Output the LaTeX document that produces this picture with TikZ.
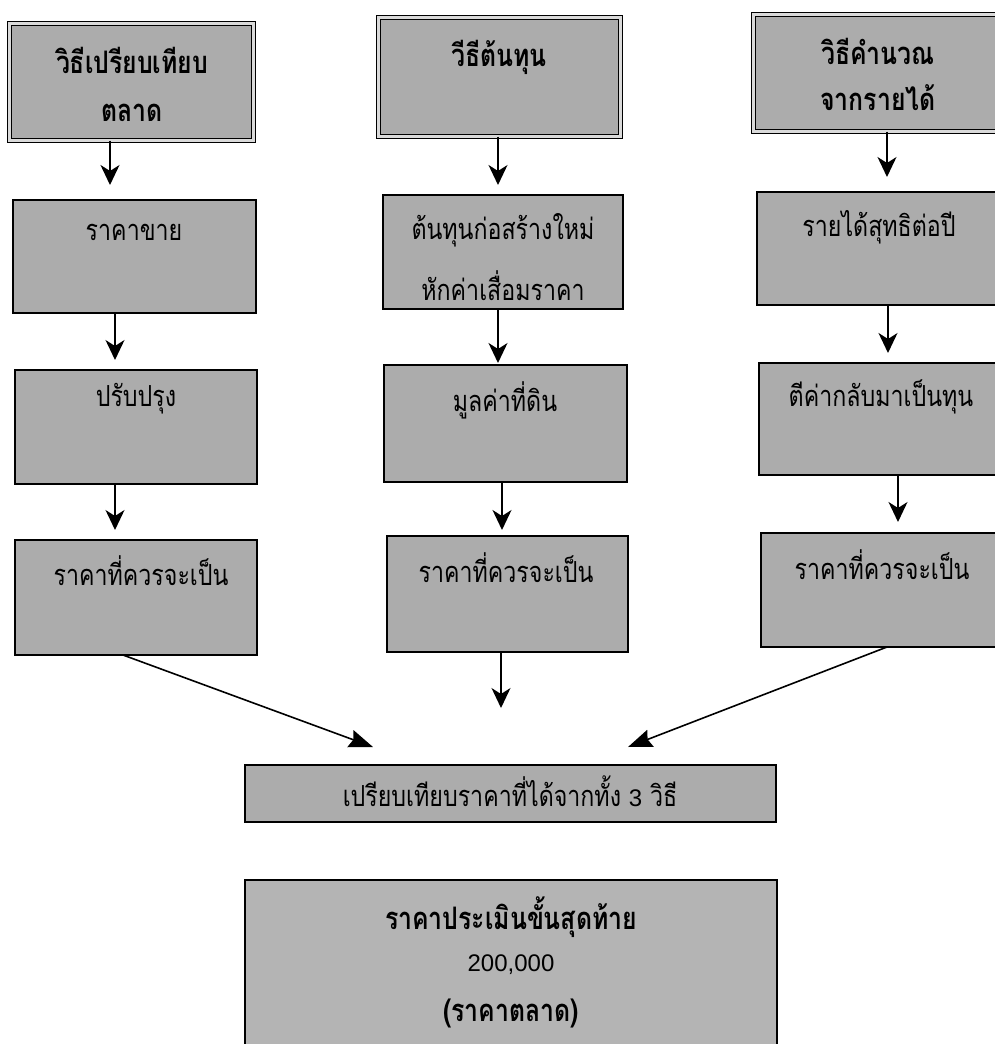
\documentclass[tikz,border=0pt]{standalone}
\usepackage{fontspec}
\usetikzlibrary{arrows.meta,calc}
\newfontfamily\thai[Script=Thai, FakeStretch=0.8]{Loma}
\newfontfamily\latin{Liberation Sans}
\definecolor{boxgray}{RGB}{172,172,172}
\definecolor{boxgrayb}{RGB}{180,180,180}
\begin{document}
\begin{tikzpicture}[x=1pt,y=-1pt,
  box/.style={draw=black, line width=1.6pt, fill=boxgray, anchor=north west, inner sep=0pt, outer sep=0pt},
  dbox/.style={box, line width=1pt, double=boxgray!45!white, double distance=2.2pt},
  txt/.style={font=\thai\fontsize{29}{33}\selectfont, inner sep=0pt, anchor=center},
  btxt/.style={font=\thai\bfseries\fontsize{31}{35}\selectfont, inner sep=0pt, anchor=center},
  arr/.style={draw=black, line width=1.6pt, -{Stealth[length=20pt, width=19pt, inset=6pt]}},
  longarr/.style={draw=black, line width=1.6pt, -{Stealth[length=24pt, width=18pt, inset=3pt]}}
]
\useasboundingbox (0,0) rectangle (994,1044);
\fill[white] (0,0) rectangle (994,1044);

% column 1
\node[dbox, minimum width=244, minimum height=117] (a1) at (9.5,23.5) {};
\node[box, minimum width=243, minimum height=113] (a2) at (13,200) {};
\node[box, minimum width=242, minimum height=114] (a3) at (15,370) {};
\node[box, minimum width=242, minimum height=115] (a4) at (15,540) {};
% column 2
\node[dbox, minimum width=242, minimum height=119] (b1) at (378.5,17.5) {};
\node[box, minimum width=240, minimum height=114] (b2) at (383,195) {};
\node[box, minimum width=243, minimum height=117] (b3) at (384,365) {};
\node[box, minimum width=241, minimum height=116] (b4) at (387,536) {};
% column 3
\node[dbox, minimum width=250, minimum height=117] (c1) at (753.5,14.5) {};
\node[box, minimum width=244, minimum height=113] (c2) at (757,192) {};
\node[box, minimum width=244, minimum height=112] (c3) at (759,363) {};
\node[box, minimum width=242, minimum height=114] (c4) at (761,533) {};
% bottom
\node[box, minimum width=531, minimum height=57] (d) at (245,765) {};
\node[box, fill=boxgrayb, minimum width=532, minimum height=180] (e) at (245,880) {};

% texts
\node[btxt] (ta1a) at (132,60) {วิธีเปรียบเทียบ};
\node[btxt] (ta1b) at (132,113) {ตลาด};
\node[txt] (ta2) at (134,232) {ราคาขาย};
\node[txt] (ta3) at (136,399) {ปรับปรุง};
\node[txt] (ta4) at (141,571) {ราคาที่ควรจะเป็น};

\node[btxt] (tb1) at (499,57) {วีธีต้นทุน};
\node[txt] (tb2a) at (503,230) {ต้นทุนก่อสร้างใหม่};
\node[txt] (tb2b) at (503,286) {หักค่าเสื่อมราคา};
\node[txt] (tb3) at (505,400) {มูลค่าที่ดิน};
\node[txt] (tb4) at (506,568) {ราคาที่ควรจะเป็น};

\node[btxt] (tc1a) at (878,51) {วิธีคำนวณ};
\node[btxt] (tc1b) at (878,98) {จากรายได้};
\node[txt] (tc2) at (879,227) {รายได้สุทธิต่อปี};
\node[txt] (tc3) at (881,397) {ตีค่ากลับมาเป็นทุน};
\node[txt] (tc4) at (882,565) {ราคาที่ควรจะเป็น};

\node[txt] (td) at (510,791) {เปรียบเทียบราคาที่ได้จากทั้ง {\latin\fontsize{24}{28}\selectfont 3} วิธี};
\node[btxt] (te1) at (511,917) {ราคาประเมินขั้นสุดท้าย};
\node[txt, font=\latin\fontsize{24}{28}\selectfont] (te2) at (511,965) {200,000};
\node[btxt] (te3) at (511,1013) {(ราคาตลาด)};

% vertical connectors
\draw[arr, shorten >=15pt] ([xshift=-21.5pt]a1.south) -- ([xshift=-24.5pt]a2.north);
\draw[arr, shorten >=10pt] ([xshift=-19.5pt]a2.south) -- ([xshift=-21pt]a3.north);
\draw[arr, shorten >=10pt] ([xshift=-21pt]a3.south) -- ([xshift=-21pt]a4.north);

\draw[arr, shorten >=10pt] ([xshift=-1.5pt]b1.south) -- ([xshift=-5pt]b2.north);
\draw[arr, shorten >=2pt] ([xshift=-5pt]b2.south) -- ([xshift=-7.5pt]b3.north);
\draw[arr, shorten >=6pt] ([xshift=-3.5pt]b3.south) -- ([xshift=-5.5pt]b4.north);
\draw[arr, shorten >=57pt] ([xshift=-6.5pt]b4.south) -- ([xshift=-6.5pt]b4.south |- d.north);

\draw[arr, shorten >=15pt] ([xshift=8.5pt]c1.south) -- ([xshift=8pt]c2.north);
\draw[arr, shorten >=10pt] ([xshift=9pt]c2.south) -- ([xshift=7pt]c3.north);
\draw[arr, shorten >=11pt] ([xshift=17pt]c3.south) -- ([xshift=16pt]c4.north);

% converging connectors
\draw[longarr] ([xshift=-13pt]a4.south) -- ([shift={(128,-18)}]d.north west);
\draw[longarr] ([xshift=5pt]c4.south) -- ([shift={(383,-18)}]d.north west);
\end{tikzpicture}
\end{document}
